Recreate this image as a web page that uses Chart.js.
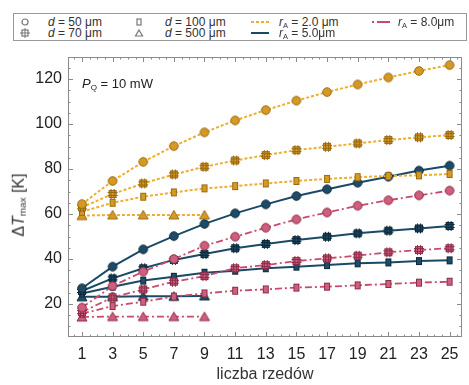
<!DOCTYPE html>
<html>
<head>
<meta charset="utf-8">
<script src="https://cdn.jsdelivr.net/npm/chart.js@4/dist/chart.umd.min.js"></script>
<style>
body{margin:0;background:#fff;font-family:"Liberation Sans",Arial,sans-serif;color:#222;}
#wrap{position:relative;width:469px;height:385px;overflow:hidden;}
#chart{position:absolute;left:0;top:0;}
.legend{position:absolute;left:13px;top:13px;width:452px;height:26px;border:1px solid #999;font-size:12px;color:#333;background:#fff;}
.li{position:absolute;white-space:nowrap;line-height:12px;}
.ytitle{position:absolute;left:19px;top:205px;transform:translate(-50%,-50%) rotate(-90deg);font-size:16px;white-space:nowrap;color:#333;}
.pq{position:absolute;left:82px;top:76px;font-size:13px;color:#222;white-space:nowrap;}
sub{font-size:0.62em;vertical-align:-0.25em;}
</style>
</head>
<body>
<div id="wrap">
<canvas id="chart" width="469" height="385"></canvas>
<div class="legend">
  <svg style="position:absolute;left:6px;top:3px" width="10" height="10"><circle cx="5" cy="5" r="3" fill="none" stroke="#777" stroke-width="1.2"/></svg>
  <div class="li" style="left:34px;top:2px"><i>d</i> = 50 μm</div>
  <svg style="position:absolute;left:6px;top:14px" width="10" height="10"><rect x="2" y="2" width="6" height="6" fill="none" stroke="#777" stroke-width="1.2"/><path d="M5 0V10M0 5H10" stroke="#777" stroke-width="1"/></svg>
  <div class="li" style="left:34px;top:13px"><i>d</i> = 70 μm</div>
  <svg style="position:absolute;left:120px;top:3px" width="10" height="10"><rect x="3" y="2" width="4" height="6" fill="none" stroke="#777" stroke-width="1.2"/></svg>
  <div class="li" style="left:151px;top:2px"><i>d</i> = 100 μm</div>
  <svg style="position:absolute;left:120px;top:14px" width="10" height="10"><path d="M5 2L8.5 8H1.5Z" fill="none" stroke="#777" stroke-width="1.2"/></svg>
  <div class="li" style="left:151px;top:13px"><i>d</i> = 500 μm</div>
  <svg style="position:absolute;left:236px;top:3px" width="20" height="10"><line x1="1" y1="5" x2="19" y2="5" stroke="#EFAE2E" stroke-width="2" stroke-dasharray="3 2"/></svg>
  <div class="li" style="left:265px;top:2px"><i>r</i><sub>A</sub> = 2.0 μm</div>
  <svg style="position:absolute;left:236px;top:14px" width="20" height="10"><line x1="1" y1="5" x2="19" y2="5" stroke="#1B4A66" stroke-width="2"/></svg>
  <div class="li" style="left:265px;top:13px"><i>r</i><sub>A</sub> = 5.0μm</div>
  <svg style="position:absolute;left:357px;top:3px" width="20" height="10"><line x1="1" y1="5" x2="19" y2="5" stroke="#C94A6E" stroke-width="2" stroke-dasharray="2 3 12 0"/></svg>
  <div class="li" style="left:384px;top:2px"><i>r</i><sub>A</sub> = 8.0μm</div>
</div>
<div class="ytitle">Δ<i>T</i><sub>max</sub> [K]</div>
<div class="pq"><i>P</i><sub>Q</sub> = 10 mW</div>
</div>
<script>
const rows=[1,3,5,7,9,11,13,15,17,19,21,23,25];
const rows500=[1,3,5,7,9];
const xTicks=[1,3,5,7,9,11,13,15,17,19,21,23,25];
const yTicks=[20,40,60,80,100,120];

// r_A = 2.0 um
const r2_d50=[64.4,74.7,83.2,90.2,96.3,101.6,106.2,110.4,114.2,117.6,120.7,123.6,126.2];
const r2_d70=[63.0,68.9,73.6,77.6,81.0,83.8,86.2,88.4,89.9,91.4,92.9,94.1,95.1];
const r2_d100=[61.0,65.0,67.7,69.6,71.4,72.4,73.6,74.7,75.6,76.4,76.9,77.2,77.8];
const r2_d500=[59.3,59.6,59.6,59.6,59.6];
// r_A = 5.0 um
const r5_d50=[27.0,36.6,44.3,50.2,55.6,60.3,64.3,68.0,71.0,73.9,76.6,79.3,81.5];
const r5_d70=[25.8,31.4,35.9,39.6,42.2,44.8,46.7,48.4,49.9,51.4,52.6,53.6,54.7];
const r5_d100=[24.7,27.7,30.4,32.1,33.9,34.8,35.9,36.6,37.3,38.1,38.5,39.1,39.4];
const r5_d500=[23.2,23.2,23.4,23.4,23.6];
// r_A = 8.0 um
const r8_d50=[18.4,28.0,34.4,40.0,45.9,49.9,53.9,57.6,60.7,63.7,66.1,68.3,70.4];
const r8_d70=[16.4,23.0,26.5,29.9,32.4,35.9,37.3,39.1,40.3,41.5,43.0,44.0,44.8];
const r8_d100=[15.7,19.1,21.0,23.3,24.7,25.9,26.5,27.3,27.7,28.3,28.9,29.5,29.9];
const r8_d500=[14.2,14.4,14.4,14.4,14.4];

const ORANGE={line:'#EFAE2E',fill:'#D69A24',edge:'#9A6A12',dash:[3,2],w:2};
const NAVY={line:'#1B4A66',fill:'#1E4C68',edge:'#0D2B3D',dash:[],w:2};
const PINK={line:'#C94A6E',fill:'#CF5F7E',edge:'#8E2C48',dash:[7,3,2,3],w:1.8};

function marker(shape,c){
    const s=14, cv=document.createElement('canvas');
    cv.width=s; cv.height=s;
    const g=cv.getContext('2d');
    g.fillStyle=c.fill; g.strokeStyle=c.edge; g.lineWidth=1;
    const m=s/2;
    if(shape==='circle'){
        g.beginPath(); g.arc(m,m,4.3,0,Math.PI*2); g.fill(); g.stroke();
    }else if(shape==='hash'){
        g.fillRect(m-3.5,m-3.5,7,7); g.strokeRect(m-3.5,m-3.5,7,7);
        g.beginPath();
        g.moveTo(m-1.5,m-5); g.lineTo(m-1.5,m+5);
        g.moveTo(m+1.5,m-5); g.lineTo(m+1.5,m+5);
        g.moveTo(m-5,m-1.5); g.lineTo(m+5,m-1.5);
        g.moveTo(m-5,m+1.5); g.lineTo(m+5,m+1.5);
        g.stroke();
    }else if(shape==='rect'){
        g.fillRect(m-2.5,m-3.5,5,7); g.strokeRect(m-2.5,m-3.5,5,7);
    }else{
        g.beginPath(); g.moveTo(m,m-4.5); g.lineTo(m+5,m+4); g.lineTo(m-5,m+4); g.closePath(); g.fill(); g.stroke();
    }
    return cv;
}

function ds(xs,ys,c,shape){
    return {
        data: xs.map((x,i)=>({x:x,y:ys[i]})),
        borderColor:c.line, borderWidth:c.w, borderDash:c.dash,
        pointStyle:marker(shape,c), pointRadius:5,
        tension:0, fill:false
    };
}

const frame={
    id:'frame',
    afterDraw(chart){
        const {ctx,chartArea:a,scales:{x,y}}=chart;
        ctx.save();
        ctx.strokeStyle='#8a8a8a'; ctx.lineWidth=1;
        ctx.strokeRect(a.left+0.5,a.top+0.5,a.right-a.left-1,a.bottom-a.top-1);
        ctx.beginPath();
        for(let v=0.5; v<=25.5; v+=0.5){
            const px=Math.round(x.getPixelForValue(v))+0.5;
            const L=(v%2===1)?5:2.5;
            ctx.moveTo(px,a.bottom); ctx.lineTo(px,a.bottom-L);
            ctx.moveTo(px,a.top); ctx.lineTo(px,a.top+L);
        }
        for(let v=10; v<=125; v+=5){
            const py=Math.round(y.getPixelForValue(v))+0.5;
            const L=(v%20===0)?5:2.5;
            ctx.moveTo(a.left,py); ctx.lineTo(a.left+L,py);
            ctx.moveTo(a.right,py); ctx.lineTo(a.right-L,py);
        }
        ctx.stroke();
        ctx.restore();
    }
};

new Chart(document.getElementById('chart').getContext('2d'),{
    type:'line',
    data:{
        datasets:[
            ds(rows,r2_d50,ORANGE,'circle'),
            ds(rows,r2_d70,ORANGE,'hash'),
            ds(rows,r2_d100,ORANGE,'rect'),
            ds(rows500,r2_d500,ORANGE,'tri'),
            ds(rows,r8_d50,PINK,'circle'),
            ds(rows,r8_d70,PINK,'hash'),
            ds(rows,r8_d100,PINK,'rect'),
            ds(rows500,r8_d500,PINK,'tri'),
            ds(rows,r5_d50,NAVY,'circle'),
            ds(rows,r5_d70,NAVY,'hash'),
            ds(rows,r5_d100,NAVY,'rect'),
            ds(rows500,r5_d500,NAVY,'tri')
        ]
    },
    options:{
        responsive:false,
        animation:false,
        layout:{padding:{top:57,right:5,left:0,bottom:0}},
        plugins:{legend:{display:false},tooltip:{enabled:false}},
        scales:{
            x:{
                type:'linear', min:0.09, max:25.81,
                afterBuildTicks:s=>{s.ticks=xTicks.map(v=>({value:v}));},
                afterFit:s=>{s.height=48;},
                grid:{display:false,drawTicks:false},
                border:{display:false},
                ticks:{font:{size:16,family:'Liberation Sans'},color:'#222',padding:8,maxRotation:0,autoSkip:false},
                title:{display:true,text:'liczba rzedów',font:{size:16,family:'Liberation Sans'},color:'#333',padding:{top:0,bottom:1}}
            },
            y:{
                min:5.33, max:129.8,
                afterBuildTicks:s=>{s.ticks=yTicks.map(v=>({value:v}));},
                afterFit:s=>{s.width=68;},
                grid:{display:false,drawTicks:false},
                border:{display:false},
                ticks:{font:{size:16,family:'Liberation Sans'},color:'#222',padding:6}
            }
        }
    },
    plugins:[frame]
});
</script>
</body>
</html>
